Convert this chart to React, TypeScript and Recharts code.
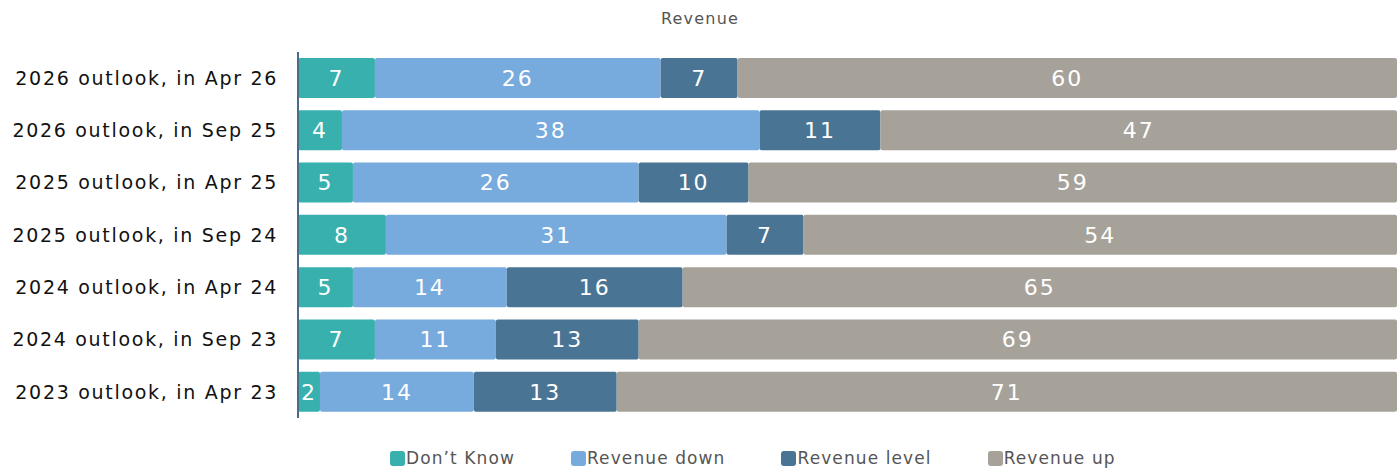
import { BarChart, Bar, XAxis, YAxis, Legend, LabelList } from 'recharts'

const categories = [
  '2026 outlook, in Apr 26',
  '2026 outlook, in Sep 25',
  '2025 outlook, in Apr 25',
  '2025 outlook, in Sep 24',
  '2024 outlook, in Apr 24',
  '2024 outlook, in Sep 23',
  '2023 outlook, in Apr 23',
]
const dontKnow = [7, 4, 5, 8, 5, 7, 2]
const revenueDown = [26, 38, 26, 31, 14, 11, 14]
const revenueLevel = [7, 11, 10, 7, 16, 13, 13]
const revenueUp = [60, 47, 59, 54, 65, 69, 71]

const seriesNames = ["Don’t Know", 'Revenue down', 'Revenue level', 'Revenue up']
const seriesKeys = ['dontKnow', 'down', 'level', 'up']
const colors = ['#38B0AE', '#77AADD', '#4A7494', '#A6A29A']

const data = categories.map((c, i) => ({
  name: c,
  dontKnow: dontKnow[i],
  down: revenueDown[i],
  level: revenueLevel[i],
  up: revenueUp[i],
}))

const FONT = '"DejaVu Sans", sans-serif'

function LegendContent() {
  return (
    <div style={{ display: 'flex', fontFamily: FONT, fontSize: 17, color: '#555', letterSpacing: 1.1 }}>
      {seriesNames.map((n, i) => (
        <div key={n} style={{ display: 'flex', alignItems: 'center', marginRight: 56 }}>
          <div
            style={{
              width: 15,
              height: 15,
              borderRadius: 3,
              background: colors[i],
              marginRight: 1,
            }}
          />
          <span>{n}</span>
        </div>
      ))}
    </div>
  )
}

export default function App() {
  return (
    <div style={{ position: 'absolute', left: 0, top: 0, width: 1400, height: 471, background: '#fff' }}>
      <div
        style={{
          position: 'absolute',
          top: 9,
          left: 0,
          width: 1400,
          textAlign: 'center',
          fontFamily: FONT,
          fontSize: 16,
          letterSpacing: 1.2,
          color: '#555',
        }}
      >
        Revenue
      </div>
      <BarChart
        width={1400}
        height={471}
        data={data}
        layout="vertical"
        margin={{ top: 52, right: 3, left: 0, bottom: 33 }}
        barCategoryGap={6}
      >
        <XAxis type="number" domain={[0, 100]} hide />
        <YAxis
          type="category"
          dataKey="name"
          width={298}
          tickLine={false}
          axisLine={{ stroke: '#4A6A88', strokeWidth: 2 }}
          tick={{ fontSize: 19, fill: '#111', fontFamily: FONT, letterSpacing: 1.7 }}
          tickMargin={14}
        />
        <Legend
          verticalAlign="bottom"
          content={<LegendContent />}
          wrapperStyle={{ left: 390, bottom: 3, width: 'auto' }}
        />
        {seriesKeys.map((k, i) => (
          <Bar
            key={k}
            dataKey={k}
            name={seriesNames[i]}
            stackId="a"
            fill={colors[i]}
            radius={2}
            isAnimationActive={false}
          >
            <LabelList
              dataKey={k}
              position="center"
              fill="#fff"
              style={{ fontSize: 22, fontFamily: FONT, letterSpacing: 2 }}
            />
          </Bar>
        ))}
      </BarChart>
    </div>
  )
}
